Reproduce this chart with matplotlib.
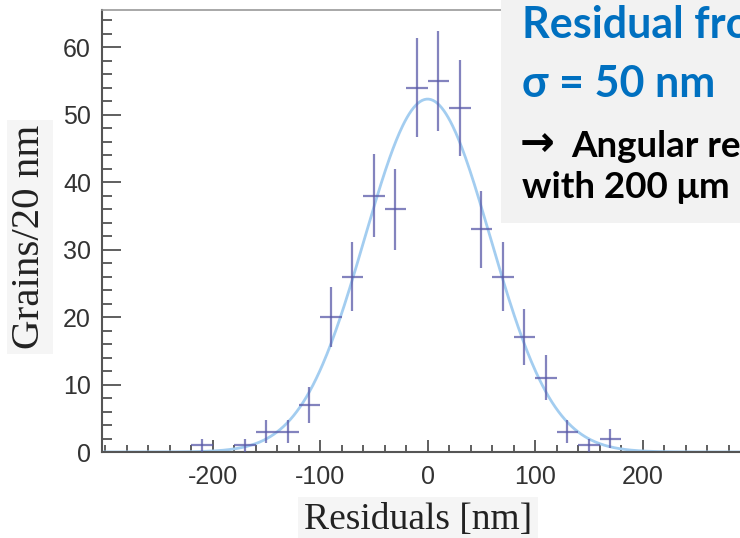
import numpy as np
import matplotlib.pyplot as plt
from matplotlib.ticker import MultipleLocator

# Histogram of residuals (20 nm bins)
bin_centers = [-210, -170, -150, -130, -110, -90, -70, -50, -30, -10,
               10, 30, 50, 70, 90, 110, 130, 150, 170]
counts = [1, 1, 3, 3, 7, 20, 26, 38, 36, 54,
          55, 51, 33, 26, 17, 11, 3, 1, 2]
bin_half_width = 10

# Gaussian fit curve as drawn in the figure
fit_amp = 52.3
fit_mean = 0.0
fit_sigma = 58.5

x_ticks = [-200, -100, 0, 100, 200]
y_ticks = [0, 10, 20, 30, 40, 50, 60]

# text panel lines (cut at the right edge in the original slide)
panel_lines = ['Residual fro', 'σ = 50 nm', 'Angular re', 'with 200 μm']

fig = plt.figure(figsize=(7.4, 5.38), dpi=100)
ax = fig.add_axes([102 / 740, 86 / 538, 648 / 740, 442 / 538])

xs = np.linspace(-303, 300, 600)
ax.plot(xs, fit_amp * np.exp(-0.5 * ((xs - fit_mean) / fit_sigma) ** 2),
        color='#a3cdf0', lw=2, zorder=2)

counts = np.array(counts)
ax.errorbar(bin_centers, counts, yerr=np.sqrt(counts), xerr=bin_half_width,
            fmt='none', ecolor='#5a5aa8', elinewidth=1.6, alpha=0.75,
            capsize=0, zorder=3)

ax.set_xlim(-303, 300)
ax.set_ylim(0, 65.5)
ax.set_xticks(x_ticks)
ax.set_yticks(y_ticks)
ax.xaxis.set_minor_locator(MultipleLocator(20))
ax.yaxis.set_minor_locator(MultipleLocator(2))
ax.tick_params(axis='both', which='both', direction='in', colors='#444444',
               labelcolor='#333333', labelsize=18, width=1.2)
ax.tick_params(axis='y', which='major', length=14, pad=8)
ax.tick_params(axis='y', which='minor', length=7)
ax.tick_params(axis='x', which='major', length=9, pad=9)
ax.tick_params(axis='x', which='minor', length=5)
ax.set_xticklabels([str(t) for t in x_ticks], family='Liberation Sans')
ax.set_yticklabels([str(t) for t in y_ticks], family='Liberation Sans')
for side in ['left', 'bottom']:
    ax.spines[side].set_color('#555555')
    ax.spines[side].set_linewidth(1.5)
ax.spines['top'].set_color('#999999')
ax.spines['top'].set_linewidth(1.2)

fig.text(30 / 740, 1 - 237 / 538, 'Grains/20 nm', rotation=90,
         ha='center', va='center', fontsize=29.5, family='Liberation Serif',
         color='#222222',
         bbox=dict(boxstyle='square,pad=0.12', fc='#f5f5f5', ec='none'))
fig.text(418 / 740, 1 - 520 / 538, 'Residuals [nm]', ha='center', va='center',
         fontsize=27, family='Liberation Serif', color='#222222',
         bbox=dict(boxstyle='square,pad=0.15', fc='#f5f5f5', ec='none'))

# grey annotation panel at the right
panel = plt.Rectangle((501 / 740, 1 - 223 / 538), 240 / 740, 223 / 538,
                      transform=fig.transFigure, fc='#f2f2f2', ec='none',
                      zorder=5)
fig.patches.append(panel)
fig.text(522 / 740, 1 - 38 / 538, panel_lines[0], fontsize=31,
         weight='bold', family='Lato', color='#0070c0', zorder=6)
fig.text(522 / 740, 1 - 97 / 538, panel_lines[1], fontsize=31,
         weight='bold', family='Lato', color='#0070c0', zorder=6)
fig.text(520 / 740, 1 - 156 / 538, '→', fontsize=30,
         weight='bold', family='DejaVu Sans', color='black', zorder=6)
fig.text(571 / 740, 1 - 157 / 538, panel_lines[2], fontsize=26.5,
         weight='bold', family='Lato', color='black', zorder=6)
fig.text(522 / 740, 1 - 198 / 538, panel_lines[3], fontsize=26.5,
         weight='bold', family='Lato', color='black', zorder=6)

fig.savefig('out.png', dpi=100)
